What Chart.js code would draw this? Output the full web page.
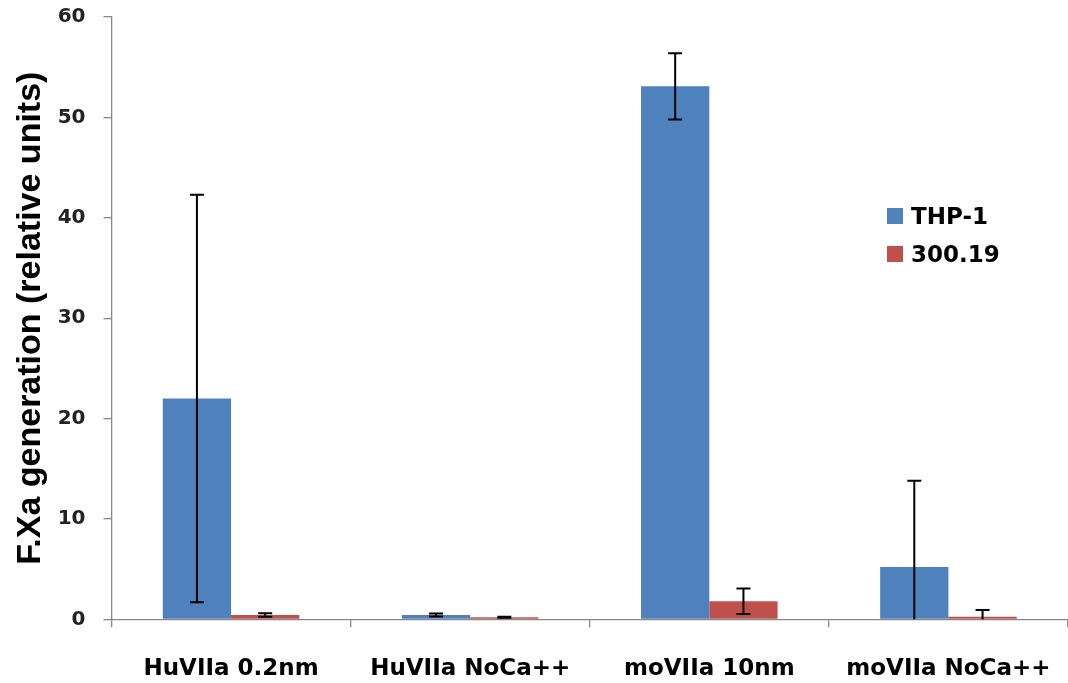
<!DOCTYPE html>
<html>
<head>
<meta charset="utf-8">
<script src="https://cdn.jsdelivr.net/npm/chart.js@4.4.1/dist/chart.umd.min.js"></script>
<style>
    body { margin: 0; background: #fff; }
    .wrap { position: relative; width: 1068px; height: 683px; overflow: hidden; }
    .legend { position: absolute; left: 887px; top: 197px; font: bold 23px "DejaVu Sans", sans-serif; color: #000; }
    .legend .item { display: flex; align-items: center; height: 38px; }
    .legend .box { width: 16px; height: 16px; margin-right: 8px; }
</style>
</head>
<body>
<div class="wrap">
    <canvas id="fxaChart" width="1068" height="683"></canvas>
    <div class="legend" id="legend"></div>
</div>
<script>
// Chart data
const categories = ["HuVIIa 0.2nm", "HuVIIa NoCa++", "moVIIa 10nm", "moVIIa NoCa++"];
const seriesNames = ["THP-1", "300.19"];
const thp1Values = [22.0, 0.43, 53.1, 5.2];
const thp1Errors = [20.3, 0.15, 3.3, 8.6];
const values30019 = [0.43, 0.2, 1.8, 0.26];
const errors30019 = [0.17, 0.05, 1.28, 0.67];
const yTicks = [0, 10, 20, 30, 40, 50, 60];

const colors = ["#4F81BD", "#C0504D"];
const axisColor = "#888888";

// Draw the error bars on top of each bar
const errorBars = {
    id: "errorBars",
    afterDatasetsDraw(chart) {
        const ctx = chart.ctx;
        const yScale = chart.scales.y;
        const area = chart.chartArea;
        ctx.save();
        ctx.beginPath();
        ctx.rect(area.left, area.top - 2, area.right - area.left, area.bottom - area.top + 2);
        ctx.clip();
        ctx.strokeStyle = "#000";
        ctx.lineWidth = 2;
        chart.data.datasets.forEach(function (ds, i) {
            const meta = chart.getDatasetMeta(i);
            meta.data.forEach(function (bar, j) {
                const v = ds.data[j];
                const e = ds.errors[j];
                const top = yScale.getPixelForValue(v + e);
                const bottom = yScale.getPixelForValue(v - e);
                const x = bar.x;
                ctx.beginPath();
                ctx.moveTo(x, top);
                ctx.lineTo(x, bottom);
                ctx.moveTo(x - 7, top);
                ctx.lineTo(x + 7, top);
                ctx.moveTo(x - 7, bottom);
                ctx.lineTo(x + 7, bottom);
                ctx.stroke();
            });
        });
        ctx.restore();
    },
};

const ctx = document.getElementById("fxaChart").getContext("2d");

new Chart(ctx, {
    type: "bar",
    data: {
        labels: categories,
        datasets: [
            {
                label: seriesNames[0],
                data: thp1Values,
                errors: thp1Errors,
                backgroundColor: colors[0],
                categoryPercentage: 0.571,
                barPercentage: 1,
            },
            {
                label: seriesNames[1],
                data: values30019,
                errors: errors30019,
                backgroundColor: colors[1],
                categoryPercentage: 0.571,
                barPercentage: 1,
            },
        ],
    },
    options: {
        responsive: false,
        animation: false,
        devicePixelRatio: 1,
        layout: { padding: { top: 17, right: 0, bottom: 0, left: 0 } },
        plugins: {
            legend: { display: false },
            tooltip: { enabled: false },
        },
        scales: {
            x: {
                offset: true,
                grid: {
                    offset: true,
                    drawOnChartArea: false,
                    drawTicks: true,
                    tickLength: 8,
                    color: axisColor,
                    lineWidth: 1.3,
                },
                border: { display: true, color: axisColor, width: 1.3 },
                ticks: {
                    color: "#000",
                    padding: 28,
                    font: { family: "DejaVu Sans", size: 23, weight: "bold" },
                },
                afterFit: function (scale) {
                    scale.height = 63.7;
                    scale.paddingLeft = 0;
                    scale.paddingRight = 0;
                },
            },
            y: {
                min: 0,
                max: 60,
                afterBuildTicks: function (scale) {
                    scale.ticks = yTicks.map(function (v) { return { value: v }; });
                },
                grid: {
                    drawOnChartArea: false,
                    drawTicks: true,
                    tickLength: 8,
                    color: axisColor,
                    lineWidth: 1.3,
                },
                border: { display: true, color: axisColor, width: 1.3 },
                ticks: {
                    color: "#222",
                    padding: 18,
                    font: { family: "DejaVu Sans", size: 20, weight: "bold" },
                },
                title: {
                    display: true,
                    text: "F.Xa generation (relative units)",
                    color: "#000",
                    padding: { top: 10, bottom: 0 },
                    font: { family: "Liberation Sans", size: 34, weight: "bold" },
                },
                afterFit: function (scale) {
                    scale.width = 111.5;
                    scale.paddingTop = 12;
                    scale.paddingBottom = 12;
                },
            },
        },
    },
    plugins: [errorBars],
});

// HTML legend
const legend = document.getElementById("legend");
seriesNames.forEach(function (name, i) {
    legend.insertAdjacentHTML("beforeend",
        `<div class="item"><span class="box" style="background:${colors[i]}"></span>${name}</div>`);
});
</script>
</body>
</html>
